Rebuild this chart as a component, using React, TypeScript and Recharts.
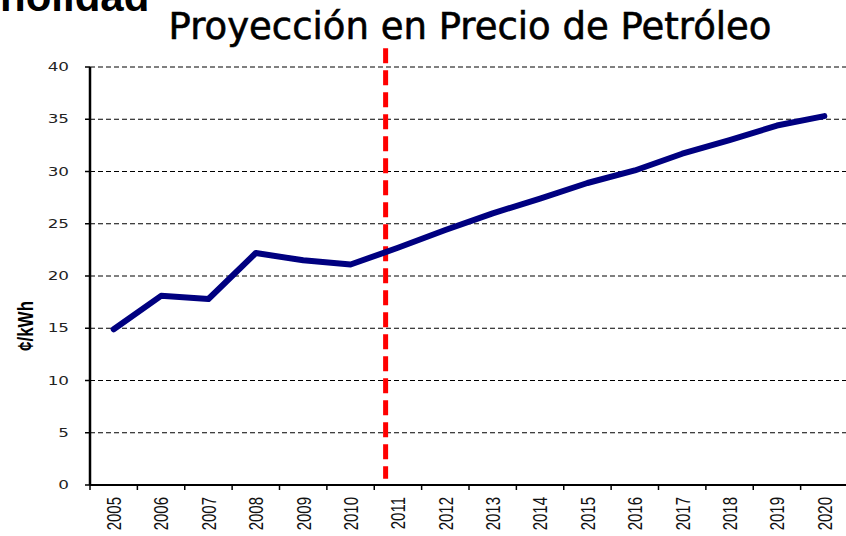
import { ComposedChart, Line, XAxis, YAxis, CartesianGrid, ReferenceLine } from 'recharts';

const YEARS = [2005, 2006, 2007, 2008, 2009, 2010, 2011, 2012, 2013, 2014, 2015, 2016, 2017, 2018, 2019, 2020];
const PRICES = [14.9, 18.1, 17.8, 22.2, 21.5, 21.1, 22.7, 24.4, 26.0, 27.4, 28.9, 30.1, 31.7, 33.0, 34.4, 35.3];
const Y_TICKS = [0, 5, 10, 15, 20, 25, 30, 35, 40];
// tick marks sit between the years, labels in the middle of each year
const YEAR_EDGES = [2004.5, 2005.5, 2006.5, 2007.5, 2008.5, 2009.5, 2010.5, 2011.5, 2012.5, 2013.5, 2014.5, 2015.5, 2016.5, 2017.5, 2018.5, 2019.5, 2020.5];
// projection starts a little after 2010
const PROJECTION_START = 2010.74;

const data = YEARS.map((year, i) => ({ year, price: PRICES[i] }));

function YTick({ x, y, payload }: any) {
  return (
    <g transform={`translate(${x},${y}) scale(1.4,1)`}>
      <text x={0} y={0} dy="0.35em" textAnchor="end" fontFamily="DejaVu Sans" fontSize={12} fill="#222">
        {payload.value}
      </text>
    </g>
  );
}

function XTick({ x, y, width, payload }: any) {
  if (payload.value === YEAR_EDGES[YEAR_EDGES.length - 1]) return null;
  const half = (width || 758) / (YEAR_EDGES.length - 1) / 2;
  return (
    <g transform={`translate(${x + half},${y + 5}) scale(1.4,1) rotate(-90)`}>
      <text x={0} y={0} dy="0.35em" textAnchor="end" fontFamily="Liberation Sans" fontSize={15} fill="#111">
        {payload.value + 0.5}
      </text>
    </g>
  );
}

function YLabel({ viewBox }: any) {
  const cx = viewBox.x + 25;
  const cy = viewBox.y + viewBox.height / 2 + 50;
  return (
    <g transform={`translate(${cx},${cy}) scale(1.3,1) rotate(-90)`}>
      <text x={0} y={0} dy="0.35em" textAnchor="middle" fontFamily="Liberation Sans" fontWeight="bold" fontSize={17} fill="#000">
        ¢/kWh
      </text>
    </g>
  );
}

export default function App() {
  return (
    <div style={{ position: 'relative', width: 846, height: 536, overflow: 'hidden', background: '#fff' }}>
      <style>{'body{margin:0}'}</style>
      <div
        style={{
          position: 'absolute', left: 0, top: -24, fontFamily: 'Liberation Sans', fontWeight: 'bold',
          fontSize: 42, lineHeight: '42px', color: '#000', whiteSpace: 'nowrap',
        }}
      >
        nolidad
      </div>
      <div
        style={{
          position: 'absolute', left: 94, top: 9, width: 752, textAlign: 'center', fontFamily: 'DejaVu Sans',
          fontSize: 37, lineHeight: '36px', color: '#000', whiteSpace: 'nowrap', zIndex: 1,
          WebkitTextStroke: '0.6px #000',
        }}
      >
        Proyección en Precio de Petróleo
      </div>
      <ComposedChart width={848} height={536} data={data} margin={{ top: 67, right: 0, bottom: 21, left: 0 }}>
        <CartesianGrid vertical={false} stroke="#000" strokeDasharray="5 3" />
        <XAxis
          dataKey="year"
          type="number"
          domain={[2004.5, 2020.5]}
          ticks={YEAR_EDGES}
          interval={0}
          height={30}
          tickSize={5}
          axisLine={{ stroke: '#000', strokeWidth: 2 }}
          tickLine={{ stroke: '#000', strokeWidth: 1.5 }}
          tick={<XTick />}
        />
        <YAxis
          width={90}
          domain={[0, 40]}
          ticks={Y_TICKS}
          interval={0}
          tickSize={5}
          tickMargin={16}
          axisLine={{ stroke: '#000', strokeWidth: 2.5 }}
          tickLine={{ stroke: '#000', strokeWidth: 1.5 }}
          tick={<YTick />}
          label={<YLabel />}
        />
        <ReferenceLine
          segment={[{ x: PROJECTION_START, y: 41.8 }, { x: PROJECTION_START, y: 0.6 }]}
          stroke="#ff0000"
          strokeWidth={5}
          strokeDasharray="15 7"
          ifOverflow="visible"
        />
        <Line
          dataKey="price"
          stroke="#000080"
          strokeWidth={6}
          strokeLinecap="round"
          strokeLinejoin="round"
          dot={false}
          isAnimationActive={false}
        />
      </ComposedChart>
    </div>
  );
}
